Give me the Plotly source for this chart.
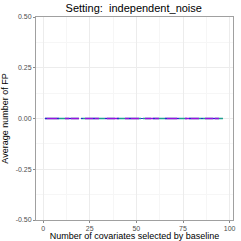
import plotly.graph_objects as go

# data
n_selected = [1, 97]
fp_method_a = [0.0, 0.0]
fp_method_b = [0.0, 0.0]
fp_method_c = [0.0, 0.0]
x_ticks = [0, 25, 50, 75, 100]
y_ticks = [-0.5, -0.25, 0.0, 0.25, 0.5]
y_tick_labels = ["-0.50", "-0.25", "0.00", "0.25", "0.50"]

fig = go.Figure()
fig.add_trace(go.Scatter(x=n_selected, y=fp_method_a, mode="lines",
                         line=dict(color="#1f9f8f", width=1.6, dash="24px,2px,8px,2px")))
fig.add_trace(go.Scatter(x=n_selected, y=fp_method_b, mode="lines",
                         line=dict(color="#9a10e0", width=1.6, dash="14px,6px")))
fig.add_trace(go.Scatter(x=n_selected, y=fp_method_c, mode="lines",
                         line=dict(color="#2030d0", width=1.0, dash="2px,10px")))

axis_common = dict(
    showline=True, mirror=True, linecolor="#a0a0a0", linewidth=1,
    ticks="outside", ticklen=2, tickcolor="#8a8a8a",
    gridcolor="#ececec", gridwidth=1,
    tickfont=dict(family="Liberation Sans, Arial, sans-serif", size=7, color="#4d4d4d"),
    zeroline=False, automargin=False,
)

fig.update_layout(
    width=241, height=241,
    margin=dict(l=36, r=8, t=17, b=21, autoexpand=False),
    paper_bgcolor="white", plot_bgcolor="white",
    showlegend=False,
    title=dict(text="Setting:  independent_noise", x=0.555, xanchor="center",
               y=0.965, yanchor="middle",
               font=dict(family="Liberation Sans, Arial, sans-serif", size=11, color="black")),
    font=dict(family="Liberation Sans, Arial, sans-serif"),
)
fig.update_xaxes(range=[-3.8, 101.8], tickvals=x_ticks,
                 title=dict(text="Number of covariates selected by baseline",
                            font=dict(size=9, color="black")),
                 **axis_common)
fig.update_xaxes(minor=dict(tickvals=[12.5, 37.5, 62.5, 87.5], showgrid=True,
                            gridcolor="#f6f6f6", ticks=""))
fig.update_yaxes(range=[-0.5, 0.5], tickvals=y_ticks, ticktext=y_tick_labels,
                 title=dict(text="Average number of FP",
                            font=dict(size=9, color="black")),
                 **axis_common)
fig.update_yaxes(minor=dict(tickvals=[-0.375, -0.125, 0.125, 0.375], showgrid=True,
                            gridcolor="#f6f6f6", ticks=""))

fig.write_html("out.html", config={"displayModeBar": False},
               post_script="document.body.style.margin='0';document.body.style.overflow='hidden';")
